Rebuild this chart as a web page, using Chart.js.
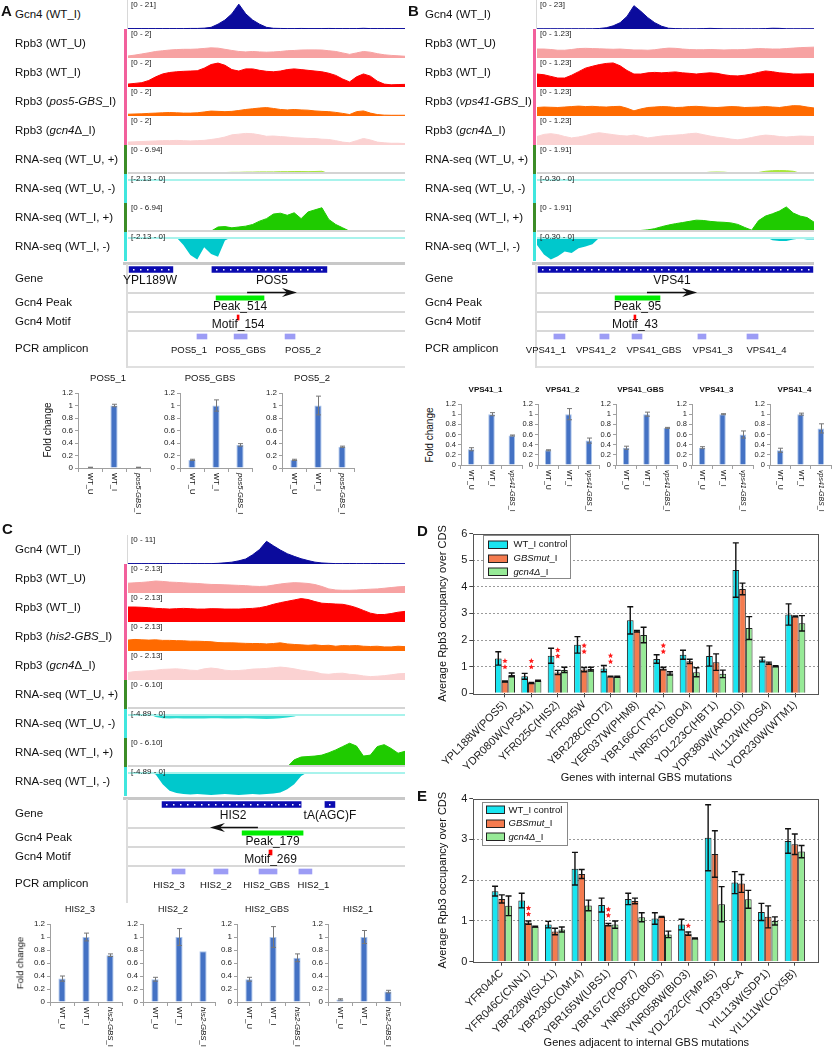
<!DOCTYPE html>
<html>
<head>
<meta charset="utf-8">
<script src="https://cdn.jsdelivr.net/npm/chart.js@4.4.1/dist/chart.umd.min.js"></script>
<style>
html,body{margin:0;padding:0;background:#fff;}
#root{position:relative;width:833px;height:1050px;overflow:hidden;background:#fff;font-family:"Liberation Sans",Arial,Helvetica,sans-serif;color:#111;}
#root .t{position:absolute;white-space:nowrap;line-height:1;}
#root .b{position:absolute;}
#root canvas{position:absolute;}
</style>
</head>
<body>
<div id="root"></div>
<script>
// ======================= DATA =======================
// ---- genome browser tracks (41 evenly spaced samples across each window) ----
const A_trackNames = ['Gcn4 (WT_I)','Rpb3 (WT_U)','Rpb3 (WT_I)','Rpb3 (<i>pos5-GBS</i>_I)','Rpb3 (<i>gcn4</i>Δ_I)','RNA-seq (WT_U, +)','RNA-seq (WT_U, -)','RNA-seq (WT_I, +)','RNA-seq (WT_I, -)'];
const B_trackNames = ['Gcn4 (WT_I)','Rpb3 (WT_U)','Rpb3 (WT_I)','Rpb3 (<i>vps41-GBS</i>_I)','Rpb3 (<i>gcn4</i>Δ_I)','RNA-seq (WT_U, +)','RNA-seq (WT_U, -)','RNA-seq (WT_I, +)','RNA-seq (WT_I, -)'];
const C_trackNames = ['Gcn4 (WT_I)','Rpb3 (WT_U)','Rpb3 (WT_I)','Rpb3 (<i>his2-GBS</i>_I)','Rpb3 (<i>gcn4</i>Δ_I)','RNA-seq (WT_U, +)','RNA-seq (WT_U, -)','RNA-seq (WT_I, +)','RNA-seq (WT_I, -)'];
const A_ranges = ['21','2','2','2','2','6.94','2.13','6.94','2.13'];
const B_ranges = ['23','1.23','1.23','1.23','1.23','1.91','0.30','1.91','0.30'];
const C_ranges = ['11','2.13','2.13','2.13','2.13','6.10','4.89','6.10','4.89'];

const A_gcn4 = [0.3,0.3,0.3,0.3,0.3,0.3,0.3,0.3,0.3,0.4,0.4,0.6,1.2,3.5,6.5,11,18,11,6.5,3.5,1.2,0.5,0.4,0.3,0.3,0.4,0.3,0.3,0.3,0.4,0.3,0.3,0.3,0.3,0.5,0.3,0.3,0.3,0.3,0.3,0.3];
const A_rpbU = [0.14,0.2,0.28,0.36,0.45,0.5,0.55,0.58,0.6,0.6,0.62,0.66,0.7,0.68,0.6,0.52,0.45,0.42,0.45,0.42,0.4,0.42,0.45,0.5,0.52,0.55,0.56,0.56,0.55,0.5,0.45,0.35,0.25,0.35,0.45,0.4,0.3,0.22,0.18,0.15,0.12];
const A_rpbI = [0.2,0.25,0.3,0.45,0.7,0.9,1.0,1.05,1.08,1.1,1.12,1.3,1.55,1.65,1.5,1.2,1.1,1.25,1.25,1.15,1.08,1.05,1.1,1.2,1.25,1.2,1.15,1.1,1.05,0.95,0.8,0.55,0.35,0.7,0.9,0.75,0.4,0.2,0.15,0.17,0.18];
const A_rpbMut = [0.12,0.14,0.15,0.18,0.2,0.22,0.24,0.22,0.2,0.2,0.22,0.28,0.34,0.32,0.3,0.32,0.38,0.45,0.5,0.55,0.58,0.52,0.45,0.42,0.45,0.42,0.4,0.35,0.32,0.3,0.25,0.18,0.1,0.3,0.35,0.2,0.1,0.06,0.05,0.05,0.05];
const A_rpbDel = [0.2,0.22,0.24,0.26,0.28,0.3,0.3,0.32,0.3,0.28,0.3,0.32,0.38,0.45,0.55,0.7,0.75,0.8,0.78,0.7,0.6,0.62,0.58,0.55,0.5,0.48,0.45,0.45,0.4,0.38,0.3,0.2,0.15,0.3,0.45,0.35,0.2,0.15,0.12,0.12,0.1];
const A_rnaUp = [0,0,0,0,0,0,0,0,0,0,0,0,0,0.3,0.35,0.4,0.4,0.45,0.45,0.5,0.5,0.5,0.55,0.55,0.6,0.6,0.55,0.6,0.65,0.1,0,0,0,0,0,0,0,0,0,0,0];
const A_rnaUm = [0,0,0,0,0,0,0,0,0,0,0,0,0,0,0,0,0,0,0,0,0,0,0,0,0,0,0,0,0,0,0,0,0,0,0,0,0,0,0,0,0];
const A_rnaIp = [0,0,0,0,0,0,0,0,0,0,0,0,0.2,1.2,1.3,1.0,1.2,1.4,1.8,2.6,3.2,4.3,4.5,4.0,4.6,3.2,4.8,5.3,5.8,3.0,1.8,1.0,0.2,0,0,0,0,0,0,0,0];
const A_rnaIm = [0,0,0,0,0,0,0,-0.05,-0.7,-1.6,-2.0,-0.9,-1.5,-1.75,-0.3,0,0,0,0,0,0,0,0,0,0,0,0,0,-0.08,0,0,0,0,0,0,0,0,0,0,0,0];

const B_gcn4 = [0.2,0.2,0.2,0.2,0.2,0.2,0.2,0.2,0.2,0.4,1.0,2.5,5.0,10,18.5,14,9,5,2.2,0.6,0.3,0.2,0.2,0.2,0.3,0.5,0.3,0.2,0.2,0.2,0.2,0.2,0.2,0.3,0.6,0.5,0.2,0.2,0.2,0.2,0.2];
const B_rpbU = [0.38,0.38,0.36,0.33,0.33,0.36,0.4,0.41,0.4,0.39,0.38,0.37,0.38,0.36,0.34,0.34,0.33,0.35,0.39,0.42,0.41,0.38,0.36,0.35,0.35,0.36,0.35,0.34,0.35,0.35,0.36,0.38,0.4,0.39,0.38,0.38,0.4,0.42,0.44,0.45,0.46];
const B_rpbI = [0.55,0.52,0.45,0.38,0.38,0.5,0.65,0.8,0.88,0.95,1.0,1.02,0.9,0.7,0.55,0.55,0.6,0.62,0.6,0.62,0.64,0.6,0.58,0.55,0.58,0.6,0.58,0.52,0.48,0.47,0.5,0.55,0.62,0.68,0.65,0.6,0.58,0.55,0.55,0.56,0.56];
const B_rpbMut = [0.36,0.38,0.37,0.36,0.38,0.4,0.42,0.4,0.41,0.39,0.38,0.4,0.41,0.33,0.22,0.3,0.36,0.38,0.4,0.39,0.36,0.37,0.4,0.41,0.39,0.37,0.36,0.38,0.4,0.39,0.36,0.37,0.38,0.4,0.38,0.36,0.4,0.44,0.43,0.38,0.34];
const B_rpbDel = [0.36,0.45,0.48,0.44,0.36,0.3,0.34,0.4,0.48,0.52,0.48,0.44,0.4,0.38,0.42,0.36,0.3,0.34,0.38,0.4,0.42,0.44,0.48,0.5,0.44,0.38,0.33,0.3,0.25,0.22,0.26,0.32,0.38,0.42,0.4,0.36,0.34,0.36,0.38,0.37,0.36];
const B_rnaUp = [0.06,0.06,0.06,0.06,0.06,0.06,0.06,0.06,0.06,0.06,0.06,0.06,0.06,0.06,0.06,0.06,0.04,0.04,0.04,0.04,0.04,0.04,0.04,0.04,0.08,0.12,0.13,0.12,0.08,0.03,0.03,0.03,0.1,0.18,0.22,0.23,0.22,0.18,0.05,0.02,0.02];
const B_rnaUm = [0,0,0,0,0,0,0,0,0,0,0,0,0,0,0,0,0,0,0,0,0,0,0,0,0,0,0,0,0,0,0,0,0,0,-0.01,-0.015,-0.01,0,0,0,0];
const B_rnaIp = [0.08,0.08,0.08,0.08,0.08,0.08,0.08,0.08,0.08,0.08,0.08,0.08,0.08,0.08,0.08,0.1,0.14,0.22,0.35,0.46,0.55,0.62,0.7,0.78,0.76,0.7,0.66,0.64,0.6,0.5,0.3,0.12,0.75,1.05,1.2,1.38,1.65,1.25,1.05,0.95,0.65];
const B_rnaIm = [-0.1,-0.22,-0.28,-0.24,-0.18,-0.2,-0.14,-0.12,-0.09,-0.01,0,0,0,0,0,0,0,0,0,0,0,0,0,0,0,0,0,0,0,0,0,0,0,0,-0.04,-0.05,-0.05,-0.03,-0.02,-0.03,-0.03];

const C_gcn4 = [0.15,0.15,0.15,0.15,0.15,0.15,0.15,0.15,0.15,0.15,0.15,0.15,0.15,0.25,0.45,0.7,1.2,1.9,3.5,5.5,8.6,6.9,5.3,3.9,2.9,2.0,1.3,0.7,0.4,0.25,0.15,0.15,0.2,0.15,0.15,0.15,0.2,0.15,0.15,0.15,0.15];
const C_rpbU = [0.72,0.75,0.78,0.82,0.88,0.85,0.8,0.78,0.75,0.72,0.7,0.66,0.63,0.62,0.6,0.58,0.56,0.54,0.5,0.48,0.5,0.58,0.66,0.72,0.76,0.74,0.7,0.62,0.48,0.3,0.22,0.2,0.2,0.22,0.25,0.28,0.3,0.35,0.4,0.45,0.48];
const C_rpbI = [1.1,1.1,1.08,1.05,1.0,0.98,0.95,0.98,1.0,0.98,0.95,0.95,0.98,0.97,0.95,0.95,0.95,0.98,1.0,1.05,1.15,1.3,1.42,1.52,1.62,1.72,1.65,1.5,1.38,1.35,1.32,1.3,1.2,1.05,0.85,0.65,0.55,0.55,0.62,0.72,0.78];
const C_rpbMut = [0.8,0.85,0.82,0.8,0.82,0.78,0.78,0.76,0.75,0.72,0.72,0.7,0.68,0.62,0.6,0.6,0.58,0.56,0.55,0.55,0.52,0.55,0.6,0.52,0.48,0.45,0.42,0.45,0.4,0.42,0.35,0.4,0.38,0.4,0.35,0.33,0.35,0.3,0.3,0.35,0.32];
const C_rpbDel = [0.55,0.62,0.65,0.68,0.72,0.78,0.8,0.82,0.78,0.72,0.7,0.82,0.88,0.82,0.72,0.68,0.7,0.74,0.8,0.82,0.85,0.9,0.95,0.9,0.82,0.72,0.65,0.58,0.45,0.42,0.48,0.5,0.42,0.38,0.3,0.25,0.28,0.32,0.38,0.45,0.48];
const C_rnaUp = [0,0,0,0,0,0,0,0,0,0,0,0,0,0,0,0,0,0,0,0,0,0,0,0,0,0,0,0,0,0,0,0,0,0,0,0,0,0,0,0,0];
const C_rnaUm = [0,0,0,0,-0.6,-0.85,-0.9,-0.85,-0.9,-0.9,-0.92,-0.9,-0.85,-0.88,-0.9,-0.92,-0.9,-0.88,-0.9,-0.95,-1.0,-0.95,-0.85,-0.7,-0.5,-0.1,0,0,0,0,0,0,0,0,0,0,0,0,0,0,0];
const C_rnaIp = [0,0,0,0,0,0,0,0,0,0,0,0,0,0,0,0,0,0,0,0,0,0,0,0,1.5,2.1,2.2,2.3,2.5,3.0,3.6,4.3,5.0,4.4,2.3,2.5,4.3,4.7,3.9,2.9,3.3];
const C_rnaIm = [0,0,0,0,-0.5,-2.5,-3.8,-4.3,-4.5,-4.6,-4.5,-4.6,-4.7,-4.6,-4.5,-4.6,-4.7,-4.6,-4.5,-4.6,-4.5,-4.4,-4.2,-3.5,-2.5,-0.8,0,0,0,0,0,0,0,0,0,0,0,0,0,0,0];

// ---- feature annotations (relative window coordinate 0-1000) ----
const A_genes = [[4,162],[303,718]];
const A_geneNames = ['YPL189W','POS5'];
const A_geneArrow = [430,610];
const A_peaks = [[318,491]];
const A_peakNames = ['Peak_514'];
const A_motifs = [[394,401]];
const A_motifNames = ['Motif_154'];
const A_pcr = [[249,285],[383,430],[567,603]];
const A_pcrNames = ['POS5_1','POS5_GBS','POS5_2'];

const B_genes = [[4,996]];
const B_geneNames = ['VPS41'];
const B_geneArrow = [397,578];
const B_peaks = [[282,444]];
const B_peakNames = ['Peak_95'];
const B_motifs = [[350,357]];
const B_motifNames = ['Motif_43'];
const B_pcr = [[61,101],[227,260],[343,379],[581,610],[758,798]];
const B_pcrNames = ['VPS41_1','VPS41_2','VPS41_GBS','VPS41_3','VPS41_4'];

const C_genes = [[123,625],[711,747]];
const C_geneNames = ['HIS2','tA(AGC)F'];
const C_geneArrow = [469,296];
const C_peaks = [[412,632]];
const C_peakNames = ['Peak_179'];
const C_motifs = [[509,520]];
const C_motifNames = ['Motif_269'];
const C_pcr = [[159,206],[310,361],[473,538],[617,664]];
const C_pcrNames = ['HIS2_3','HIS2_2','HIS2_GBS','HIS2_1'];

// ---- ChIP-qPCR fold change ----
const A_qTitles = ['POS5_1','POS5_GBS','POS5_2'];
const A_qCats = ['WT_U','WT_I','<i>pos5-GBS</i>_I'];
const A_qVals = [[0.01,1.0,0.01],[0.13,1.0,0.37],[0.13,1.0,0.34]];
const A_qErr = [[0.003,0.02,0.003],[0.01,0.09,0.02],[0.01,0.15,0.01]];

const B_qTitles = ['VPS41_1','VPS41_2','VPS41_GBS','VPS41_3','VPS41_4'];
const B_qCats = ['WT_U','WT_I','<i>vps41-GBS</i>_I'];
const B_qVals = [[0.31,1.0,0.58],[0.29,1.0,0.48],[0.34,1.0,0.73],[0.34,1.0,0.60],[0.29,1.0,0.72]];
const B_qErr = [[0.03,0.03,0.01],[0.01,0.11,0.05],[0.03,0.04,0.01],[0.02,0.01,0.07],[0.04,0.02,0.09]];

const C_qTitles = ['HIS2_3','HIS2_2','HIS2_GBS','HIS2_1'];
const C_qCats = ['WT_U','WT_I','<i>his2-GBS</i>_I'];
const C_qVals = [[0.36,1.0,0.72],[0.35,1.0,0.78],[0.35,1.0,0.68],[0.04,1.0,0.16]];
const C_qErr = [[0.04,0.06,0.02],[0.03,0.13,0],[0.03,0.16,0.06],[0.01,0.1,0.02]];

// ---- Panel D ----
const seriesNames = ['WT_I control','<i>GBSmut</i>_I','<i>gcn4Δ</i>_I'];
const D_genes = ['YPL188W(POS5)','YDR080W(VPS41)','YFR025C(HIS2)','YFR045W','YBR228C(ROT2)','YER037W(PHM8)','YBR166C(TYR1)','YNR057C(BIO4)','YDL223C(HBT1)','YDR380W(ARO10)','YIL112W(HOS4)','YOR230W(WTM1)'];
const D_wt     = [1.31,0.64,1.41,1.82,0.93,2.74,1.29,1.45,1.40,4.63,1.27,2.96];
const D_wtErr  = [0.25,0.11,0.28,0.31,0.12,0.51,0.16,0.17,0.38,1.02,0.09,0.40];
const D_mut    = [0.44,0.39,0.78,0.89,0.63,2.33,0.93,1.20,1.17,3.92,1.13,2.89];
const D_mutErr = [0.02,0.02,0.08,0.08,0.01,0.03,0.05,0.08,0.31,0.22,0.04,0.02];
const D_del    = [0.69,0.47,0.88,0.91,0.62,2.19,0.75,0.79,0.73,2.45,1.02,2.63];
const D_delErr = [0.07,0.02,0.10,0.07,0.02,0.29,0.06,0.17,0.14,0.43,0.02,0.29];
const D_stars  = [2,2,2,2,2,0,2,0,0,0,0,0];
const D_starY  = [1.1,1.1,1.51,1.68,1.3,0,1.68,0,0,0,0,0];

// ---- Panel E ----
const E_genes = ['YFR044C','YFR046C(CNN1)','YBR228W(SLX1)','YBR230C(OM14)','YBR165W(UBS1)','YBR167C(POP7)','YNR056C(BIO5)','YNR058W(BIO3)','YDL222C(FMP45)','YDR379C-A','YIL113W(SDP1)','YIL111W(COX5B)'];
const E_wt     = [1.73,1.50,0.91,2.28,1.39,1.54,1.06,0.91,3.04,1.94,1.22,2.96];
const E_wtErr  = [0.12,0.18,0.08,0.40,0.17,0.14,0.14,0.13,0.81,0.27,0.21,0.30];
const E_mut    = [1.54,0.96,0.74,2.15,0.91,1.49,1.10,0.69,2.64,1.92,1.10,2.88];
const E_mutErr = [0.10,0.04,0.08,0.11,0.03,0.07,0.01,0.04,0.57,0.22,0.27,0.25];
const E_del    = [1.37,0.86,0.79,1.38,0.91,1.09,0.67,0.57,1.41,1.53,1.00,2.70];
const E_delErr = [0.24,0.01,0.06,0.13,0.09,0.11,0.08,0.01,0.43,0.22,0.10,0.15];
const E_stars  = [0,2,0,0,2,0,0,1,0,0,0,0];
const E_starY  = [0,1.24,0,0,1.21,0,0,0.88,0,0,0,0];

// ======================= STYLE =======================
const FONT = '"Liberation Sans", Arial, Helvetica, sans-serif';
const TRACK_H = 29;
const TRACK_COLORS = ['#0b0b9c','#f7a2a2','#ff0000','#ff6a00','#fbd2d2','#a8e63a','#2fdcd2','#1fcb00','#00c8cc'];
const TRACK_NEG = [0,0,0,0,0,0,1,0,1];
const SIDE_COLORS = [null,'#f2609c','#f2609c','#f2609c','#f2609c','#3c8c28','#40e6de','#3c8c28','#40e6de'];
const SERIES_COLORS = ['#19e5f0','#f47b4f','#97ea97'];

// ======================= HELPERS =======================
const root = document.getElementById('root');
Chart.defaults.font.family = FONT;
Chart.defaults.color = '#222';
Chart.defaults.animation = false;
Chart.defaults.responsive = false;
Chart.defaults.maintainAspectRatio = false;
Chart.defaults.events = [];
Chart.defaults.plugins.legend.display = false;
Chart.defaults.plugins.tooltip.enabled = false;

function canvasAt(x, y, w, h) {
  const c = document.createElement('canvas');
  x = Math.round(x); y = Math.round(y); w = Math.round(w); h = Math.round(h);
  c.width = w; c.height = h;
  c.style.left = x + 'px'; c.style.top = y + 'px';
  c.style.width = w + 'px'; c.style.height = h + 'px';
  root.appendChild(c);
  return c;
}
function text(html, x, y, o) {
  o = o || {};
  const d = document.createElement('div');
  d.className = 't';
  d.innerHTML = html;
  const ax = o.align === 'center' ? '-50%' : (o.align === 'right' ? '-100%' : '0');
  let tf = 'translate(' + ax + ',-50%)';
  if (o.rot) tf = 'translate(-50%,-50%) rotate(' + o.rot + 'deg)';
  d.style.left = x + 'px'; d.style.top = y + 'px';
  d.style.fontSize = (o.size || 11.5) + 'px';
  if (o.bold) d.style.fontWeight = 'bold';
  d.style.color = o.color || '#111';
  d.style.transform = tf;
  root.appendChild(d);
}
function rect(x, y, w, h, color) {
  const d = document.createElement('div');
  d.className = 'b';
  d.style.left = x + 'px'; d.style.top = y + 'px';
  d.style.width = w + 'px'; d.style.height = h + 'px';
  d.style.background = color;
  root.appendChild(d);
}
function segs(s) {
  const out = []; let it = false;
  s.split(/(<i>|<\/i>)/).forEach(p => {
    if (p === '<i>') it = true; else if (p === '</i>') it = false; else if (p) out.push({ t: p, it });
  });
  return out;
}
function drawRich(ctx, s, x, y, size, align, weight) {
  const ss = segs(s);
  const fontOf = sg => [sg.it ? 'italic' : '', weight || '', size + 'px', FONT].filter(Boolean).join(' ');
  let tw = 0;
  ss.forEach(sg => { ctx.font = fontOf(sg); sg.w = ctx.measureText(sg.t).width; tw += sg.w; });
  let cx = align === 'center' ? x - tw / 2 : (align === 'right' ? x - tw : x);
  ctx.textAlign = 'left';
  ss.forEach(sg => { ctx.font = fontOf(sg); ctx.fillText(sg.t, cx, y); cx += sg.w; });
}
function star(ctx, x, y, r) {
  ctx.beginPath();
  for (let k = 0; k < 10; k++) {
    const a = -Math.PI / 2 + k * Math.PI / 5;
    const rr = k % 2 ? r * 0.45 : r;
    ctx.lineTo(x + rr * Math.cos(a), y + rr * Math.sin(a));
  }
  ctx.closePath(); ctx.fill();
}

// ======================= PLUGINS =======================
const trackLinePlug = {
  id: 'trackLine',
  afterDatasetsDraw(chart, args, o) {
    if (!o || !o.color) return;
    const { ctx, chartArea: ca } = chart;
    const y0 = chart.scales.y.getPixelForValue(0) + (o.neg ? 1 : -1);
    ctx.save(); ctx.strokeStyle = o.color; ctx.lineWidth = 2;
    ctx.beginPath(); ctx.moveTo(ca.left, y0); ctx.lineTo(ca.right, y0); ctx.stroke();
    ctx.restore();
  }
};

const annoPlug = {
  id: 'anno',
  afterDatasetsDraw(chart, args, o) {
    const { ctx } = chart;
    const xs = chart.scales.x;
    const meta = chart.getDatasetMeta(0);
    ctx.save();
    if (o.dots) {
      ctx.fillStyle = '#ffffff';
      meta.data.forEach(b => {
        const l = Math.min(b.x, b.base), r = Math.max(b.x, b.base);
        for (let px = l + 4; px < r - 2; px += 7) ctx.fillRect(Math.round(px), Math.round(b.y) - 1, 1.5, 1.5);
      });
    }
    ctx.fillStyle = '#111';
    ctx.textBaseline = 'middle';
    meta.data.forEach((b, i) => {
      const dx = o.dx ? (o.dx[i] || 0) : 0;
      drawRich(ctx, o.names[i], (b.x + b.base) / 2 + dx, b.y + o.dy, o.size, 'center', '');
    });
    if (o.arrow) {
      const x1 = xs.getPixelForValue(o.arrow[0]), x2 = xs.getPixelForValue(o.arrow[1]);
      const ya = Math.round(meta.data[0].y + o.arrowDy) + 0.5;
      const dir = x2 > x1 ? 1 : -1;
      ctx.strokeStyle = '#111'; ctx.fillStyle = '#111'; ctx.lineWidth = 1.6;
      ctx.beginPath(); ctx.moveTo(x1, ya); ctx.lineTo(x2 - dir * 8, ya); ctx.stroke();
      ctx.beginPath(); ctx.moveTo(x2, ya); ctx.lineTo(x2 - dir * 15, ya - 4.5); ctx.lineTo(x2 - dir * 10, ya); ctx.lineTo(x2 - dir * 15, ya + 4.5); ctx.closePath(); ctx.fill();
    }
    ctx.restore();
  }
};

const smallPlug = {
  id: 'small',
  afterDatasetsDraw(chart, args, o) {
    const { ctx } = chart; const ys = chart.scales.y;
    const meta = chart.getDatasetMeta(0); const vals = chart.data.datasets[0].data;
    ctx.save(); ctx.strokeStyle = '#777'; ctx.lineWidth = 1;
    meta.data.forEach((b, i) => {
      const e = o.errs[i]; if (!e) return;
      const yt = ys.getPixelForValue(vals[i] + e), yb = ys.getPixelForValue(vals[i] - e);
      const x = Math.round(b.x) + 0.5;
      ctx.beginPath();
      ctx.moveTo(x, yt); ctx.lineTo(x, yb);
      ctx.moveTo(x - 2.5, yt); ctx.lineTo(x + 2.5, yt);
      ctx.moveTo(x - 2.5, yb); ctx.lineTo(x + 2.5, yb);
      ctx.stroke();
    });
    ctx.restore();
  },
  afterDraw(chart, args, o) {
    const { ctx, chartArea: ca } = chart; const xs = chart.scales.x;
    ctx.save(); ctx.fillStyle = '#111'; ctx.textBaseline = 'middle';
    drawRich(ctx, o.title, (ca.left + ca.right) / 2 - 6, o.titleY, o.titleSize, 'center', o.titleWeight);
    chart.data.labels.forEach((lab, i) => {
      ctx.save();
      ctx.translate(xs.getPixelForValue(i), ca.bottom + 5);
      ctx.rotate(Math.PI / 2);
      drawRich(ctx, lab, 0, 0, o.labelSize, 'left', '');
      ctx.restore();
    });
    ctx.restore();
  }
};

const groupPlug = {
  id: 'grp',
  afterDatasetsDraw(chart, args, o) {
    const { ctx } = chart; const ys = chart.scales.y;
    ctx.save(); ctx.strokeStyle = '#111'; ctx.lineWidth = 1.4;
    chart.data.datasets.forEach((ds, di) => {
      const meta = chart.getDatasetMeta(di);
      meta.data.forEach((b, i) => {
        const v = ds.data[i].y, e = o.errs[di][i]; if (!e) return;
        const yt = ys.getPixelForValue(v + e), yb = ys.getPixelForValue(v - e), hw = 3;
        ctx.beginPath();
        ctx.moveTo(b.x, yt); ctx.lineTo(b.x, yb);
        ctx.moveTo(b.x - hw, yt); ctx.lineTo(b.x + hw, yt);
        ctx.moveTo(b.x - hw, yb); ctx.lineTo(b.x + hw, yb);
        ctx.stroke();
      });
    });
    ctx.restore();
    const m1 = chart.getDatasetMeta(1);
    ctx.save(); ctx.fillStyle = '#ff1a1a';
    o.stars.forEach((n, i) => {
      for (let k = 0; k < n; k++) {
        const cy = ys.getPixelForValue(o.starY[i]) + (k - (n - 1) / 2) * 6;
        star(ctx, m1.data[i].x, cy, 2.9);
      }
    });
    ctx.restore();
  },
  afterDraw(chart, args, o) {
    const { ctx, chartArea: ca } = chart;
    ctx.save();
    ctx.strokeStyle = '#555'; ctx.lineWidth = 1;
    ctx.strokeRect(Math.round(ca.left) + 0.5, Math.round(ca.top) + 0.5, Math.round(ca.right - ca.left) - 1, Math.round(ca.bottom - ca.top));
    // legend
    const L = o.legend;
    const lx = Math.round(ca.left + L.dx) + 0.5, ly = Math.round(ca.top + L.dy) + 0.5;
    ctx.fillStyle = '#fff'; ctx.fillRect(lx, ly, L.w, L.h);
    ctx.strokeStyle = '#888'; ctx.strokeRect(lx, ly, L.w, L.h);
    chart.data.datasets.forEach((ds, di) => {
      const ry = ly + L.row0 + di * L.rowH;
      ctx.fillStyle = ds.backgroundColor;
      ctx.fillRect(lx + L.sx, Math.round(ry - L.sh / 2), L.sw, L.sh);
      ctx.strokeStyle = '#222'; ctx.lineWidth = 1;
      ctx.strokeRect(lx + L.sx, Math.round(ry - L.sh / 2), L.sw, L.sh);
      ctx.fillStyle = '#111'; ctx.textBaseline = 'middle';
      drawRich(ctx, ds.label, lx + L.tx, ry, L.size, 'left', '');
    });
    // x-axis title
    ctx.fillStyle = '#111'; ctx.textBaseline = 'middle';
    drawRich(ctx, o.xTitle, (ca.left + ca.right) / 2, o.xTitleY, 11, 'center', '');
    ctx.restore();
  }
};

// ======================= BUILDERS =======================
function drawTrack(x, y, w, data, color, range, neg, lineColor) {
  const c = canvasAt(x, y, w, TRACK_H);
  new Chart(c, {
    type: 'line',
    data: { labels: data.map((_, i) => i), datasets: [{ data, borderColor: color, backgroundColor: color, borderWidth: neg ? 0 : 1, pointRadius: 0, fill: 'origin', tension: 0 }] },
    options: {
      layout: { padding: { top: neg ? 5 : 0, bottom: 0, left: 0, right: 0 } },
      scales: { x: { display: false }, y: { display: false, min: neg ? -range : 0, max: neg ? 0 : range } },
      plugins: { trackLine: { color: lineColor, neg: !!neg } }
    },
    plugins: [trackLinePlug]
  });
}

function panelTracks(labelX, trackX, top, w, names, ranges, data) {
  for (let i = 0; i < 9; i++) {
    const y = top + i * TRACK_H;
    const neg = TRACK_NEG[i];
    const r = parseFloat(ranges[i]);
    const lc = i >= 5 ? (neg ? '#a8f3ec' : '#d4d4d4') : null;
    drawTrack(trackX, y, w, data[i], TRACK_COLORS[i], r, neg, lc);
    if (SIDE_COLORS[i]) rect(trackX - 4, y, 3, TRACK_H, SIDE_COLORS[i]);
    else rect(trackX - 1, y, 1, TRACK_H, '#d8d8d8');
    text(names[i], labelX, y + 14.5, { size: 11.5 });
    text(neg ? '[-' + ranges[i] + ' - 0]' : '[0 - ' + ranges[i] + ']', trackX + 3, y + 4.7, { size: 8, color: '#222' });
  }
  rect(trackX - 5, top + 9 * TRACK_H + 1, w + 5, 3, '#c8c8c8');
}

const ANNO_PAD = 24;
function annoRow(x, y, w, h, center, feats, color, thick, opts) {
  const c = canvasAt(x - ANNO_PAD, y, w + 2 * ANNO_PAD, h);
  new Chart(c, {
    type: 'bar',
    data: { labels: ['r'], datasets: [{ data: feats.map(f => ({ x: [f[0], f[1]], y: 'r' })), backgroundColor: color, borderWidth: 0, barThickness: thick }] },
    options: {
      indexAxis: 'y',
      layout: { padding: { top: 0, left: ANNO_PAD, right: ANNO_PAD, bottom: h - 2 * center } },
      scales: { x: { type: 'linear', display: false, min: 0, max: 1000 }, y: { display: false } },
      plugins: { anno: opts }
    },
    plugins: [annoPlug]
  });
}

function panelAnno(labelX, trackX, R, w, f, bottomLine) {
  // separator lines first so that labels sit on top of them
  rect(trackX, R + 27, w, 2, '#d8d8d8');
  rect(trackX, R + 46, w, 2, '#d8d8d8');
  rect(trackX, R + 65, w, 2, '#d8d8d8');
  if (bottomLine) rect(trackX, R + 101, w, 2, '#e0e0e0');
  rect(trackX - 2, R - 1, 1.5, 104, '#dcdcdc');
  annoRow(trackX, R, w, 32, 4.5, f.genes, '#0b0bb0', 6, { names: f.geneNames, dx: f.geneDx, dy: 11, size: 12, dots: true, arrow: f.arrow, arrowDy: 22 });
  annoRow(trackX, R + 28, w, 22, 5, f.peaks, '#00ec00', 4.5, { names: f.peakNames, dx: [0], dy: 8.5, size: 12 });
  annoRow(trackX, R + 47, w, 22, 5.5, f.motifs, '#ff0000', 5, { names: f.motifNames, dx: [0], dy: 7, size: 12 });
  annoRow(trackX, R + 66, w, 36, 5.5, f.pcr, '#9c9cf5', 5, { names: f.pcrNames, dx: f.pcrDx, dy: 13.5, size: 9.5 });
  text('Gene', labelX, R + 14, { size: 11.5 });
  text('Gcn4 Peak', labelX, R + 37.5, { size: 11.5 });
  text('Gcn4 Motif', labelX, R + 57, { size: 11.5 });
  text('PCR amplicon', labelX, R + 83.5, { size: 11.5 });
}

function smallChart(axisX, plotW, plotTop, plotBot, titleAbsY, title, vals, errs, cats, st) {
  const yW = 26;
  const left = Math.round(axisX - yW);
  const T = Math.round(titleAbsY - 9);
  const H = Math.round(plotBot - T + 50);
  const W = Math.round(yW + plotW + 4);
  const c = canvasAt(left, T, W, H);
  const caBottom = Math.round(plotBot - T);
  new Chart(c, {
    type: 'bar',
    data: { labels: cats, datasets: [{ data: vals, backgroundColor: '#4472c4', borderColor: '#a9c3ea', borderWidth: 1, barPercentage: st.barPct, categoryPercentage: 1 }] },
    options: {
      layout: { padding: { top: Math.round(plotTop - T), right: 4, bottom: H - caBottom - 4, left: 0 } },
      scales: {
        x: { ticks: { display: false }, grid: { offset: true, drawOnChartArea: false, tickLength: 4, color: '#a0a0a0' }, border: { color: '#a0a0a0' }, afterFit: s => { s.height = 4; } },
        y: { min: 0, max: 1.2, afterFit: s => { s.width = yW; },
             ticks: { stepSize: 0.2, autoSkip: false, font: { size: st.tick }, color: '#222', padding: 2, callback: v => String(Math.round(v * 10) / 10) },
             grid: { drawOnChartArea: false, tickLength: 3, color: '#a0a0a0' }, border: { color: '#a0a0a0' } }
      },
      plugins: { small: { title: title, titleY: titleAbsY - T, titleSize: st.title, titleWeight: st.titleWeight, errs: errs, labelSize: st.label } }
    },
    plugins: [smallPlug]
  });
}

function groupChart(o) {
  const c = canvasAt(o.x, o.y, o.w, o.h);
  const ds = o.series.map((vals, k) => ({
    label: seriesNames[k], data: vals.map((v, i) => ({ x: i, y: v })),
    backgroundColor: SERIES_COLORS[k], borderColor: '#222', borderWidth: 1,
    categoryPercentage: 0.76, barPercentage: 1
  }));
  new Chart(c, {
    type: 'bar',
    data: { datasets: ds },
    options: {
      layout: { padding: { top: o.padTop, right: o.padRight, left: 0, bottom: 0 } },
      scales: {
        x: { type: 'linear', min: o.xMin, max: o.xMax, offset: false,
             afterBuildTicks: s => { s.ticks = o.genes.map((_, i) => ({ value: i })); },
             afterFit: s => { s.height = o.xH; },
             ticks: { autoSkip: false, minRotation: 45, maxRotation: 45, font: { size: 11 }, color: '#1a1a1a', padding: 1, callback: v => o.genes[v] },
             grid: { offset: false, drawOnChartArea: false, tickLength: 4, color: '#444' },
             border: { display: false } },
        y: { min: 0, max: o.yMax, afterFit: s => { s.width = o.yW; },
             ticks: { stepSize: 1, autoSkip: false, font: { size: 11 }, color: '#1a1a1a', padding: 2 },
             grid: { color: ctx => (ctx.tick && ctx.tick.value > 0 && ctx.tick.value < o.yMax) ? '#9a9a9a' : 'rgba(0,0,0,0)', tickLength: 4, tickColor: '#444', tickBorderDash: [] },
             border: { display: false, dash: [2, 2] },
             title: { display: true, text: 'Average Rpb3 occupancy over CDS', font: { size: 11 }, color: '#111', padding: { top: o.yTitlePad, bottom: 0 } } }
      },
      plugins: { grp: { errs: o.errs, stars: o.stars, starY: o.starY, legend: o.legend, xTitle: o.xTitle, xTitleY: o.xTitleY - o.y } }
    },
    plugins: [groupPlug]
  });
}

// ======================= BUILD FIGURE =======================
// Panel A
panelTracks(15, 128, 0, 277, A_trackNames, A_ranges, [A_gcn4, A_rpbU, A_rpbI, A_rpbMut, A_rpbDel, A_rnaUp, A_rnaUm, A_rnaIp, A_rnaIm]);
panelAnno(15, 128, 265, 277, { genes: A_genes, geneNames: A_geneNames, geneDx: [-1, 2.5], arrow: A_geneArrow, peaks: A_peaks, peakNames: A_peakNames, motifs: A_motifs, motifNames: A_motifNames, pcr: A_pcr, pcrNames: A_pcrNames, pcrDx: [-13, 0, 13] }, true);
const A_axes = [77.7, 179.5, 281.5];
A_qTitles.forEach((t, k) => smallChart(A_axes[k], 72, 393, 468, 378, t, A_qVals[k], A_qErr[k], A_qCats, { tick: 8, title: 9.5, titleWeight: '', label: 7.6, barPct: 0.3 }));
text('Fold change', 48, 430, { size: 10, rot: -90 });

// Panel B
panelTracks(425, 537, 0, 277, B_trackNames, B_ranges, [B_gcn4, B_rpbU, B_rpbI, B_rpbMut, B_rpbDel, B_rnaUp, B_rnaUm, B_rnaIp, B_rnaIm]);
panelAnno(425, 537, 265, 277, { genes: B_genes, geneNames: B_geneNames, geneDx: [-3.5], arrow: B_geneArrow, peaks: B_peaks, peakNames: B_peakNames, motifs: B_motifs, motifNames: B_motifNames, pcr: B_pcr, pcrNames: B_pcrNames, pcrDx: [-13.5, -8.5, 17, 10.7, 14] }, true);
const B_axes = [460.9, 538.2, 615.6, 691.6, 769.6];
B_qTitles.forEach((t, k) => smallChart(B_axes[k], 61, 404, 465, 390, t, B_qVals[k], B_qErr[k], B_qCats, { tick: 7.5, title: 8, titleWeight: 'bold', label: 7, barPct: 0.32 }));
text('Fold change', 430, 435, { size: 10, rot: -90 });

// Panel C
panelTracks(15, 128, 535, 277, C_trackNames, C_ranges, [C_gcn4, C_rpbU, C_rpbI, C_rpbMut, C_rpbDel, C_rnaUp, C_rnaUm, C_rnaIp, C_rnaIm]);
panelAnno(15, 128, 800, 277, { genes: C_genes, geneNames: C_geneNames, geneDx: [1.5, 0], arrow: C_geneArrow, peaks: C_peaks, peakNames: C_peakNames, motifs: C_motifs, motifNames: C_motifNames, pcr: C_pcr, pcrNames: C_pcrNames, pcrDx: [-9.5, -5, -1.5, 8] }, false);
const C_axes = [50, 143.3, 237.3, 328.3];
C_qTitles.forEach((t, k) => smallChart(C_axes[k], 72, 924.3, 1002.3, 910, t, C_qVals[k], C_qErr[k], C_qCats, { tick: 8, title: 9, titleWeight: '', label: 7.8, barPct: 0.3 }));
text('Fold change', 20, 963, { size: 9.5, rot: -90 });

// Panel D
groupChart({ x: 420, y: 525, w: 413, h: 265, padTop: 8.3, padRight: 13.7, yW: 53.3, xH: 96.7,
  xMin: -1.2, xMax: 11.91, yMax: 6, genes: D_genes,
  series: [D_wt, D_mut, D_del], errs: [D_wtErr, D_mutErr, D_delErr], stars: D_stars, starY: D_starY,
  xTitle: 'Genes with internal GBS mutations', xTitleY: 778, yTitlePad: 16.5,
  legend: { dx: 9.7, dy: 1.7, w: 87, h: 43, sx: 5, sw: 19, sh: 7.5, tx: 30, row0: 9, rowH: 13.8, size: 9.5 } });

// Panel E
groupChart({ x: 420, y: 790, w: 413, h: 260, padTop: 8, padRight: 13.7, yW: 53.3, xH: 88.3,
  xMin: -1.07, xMax: 11.92, yMax: 4, genes: E_genes,
  series: [E_wt, E_mut, E_del], errs: [E_wtErr, E_mutErr, E_delErr], stars: E_stars, starY: E_starY,
  xTitle: 'Genes adjacent to internal GBS mutations', xTitleY: 1043, yTitlePad: 16.5,
  legend: { dx: 8.4, dy: 3.7, w: 85, h: 43, sx: 4, sw: 18, sh: 7.5, tx: 26, row0: 7.6, rowH: 13.4, size: 9.5 } });

// Panel letters (on top)
text('A', 1, 10, { size: 15, bold: true });
text('B', 408, 10, { size: 15, bold: true });
text('C', 2, 527.5, { size: 15, bold: true });
text('D', 417, 529.5, { size: 15, bold: true });
text('E', 417, 794.5, { size: 15, bold: true });
</script>
</body>
</html>
